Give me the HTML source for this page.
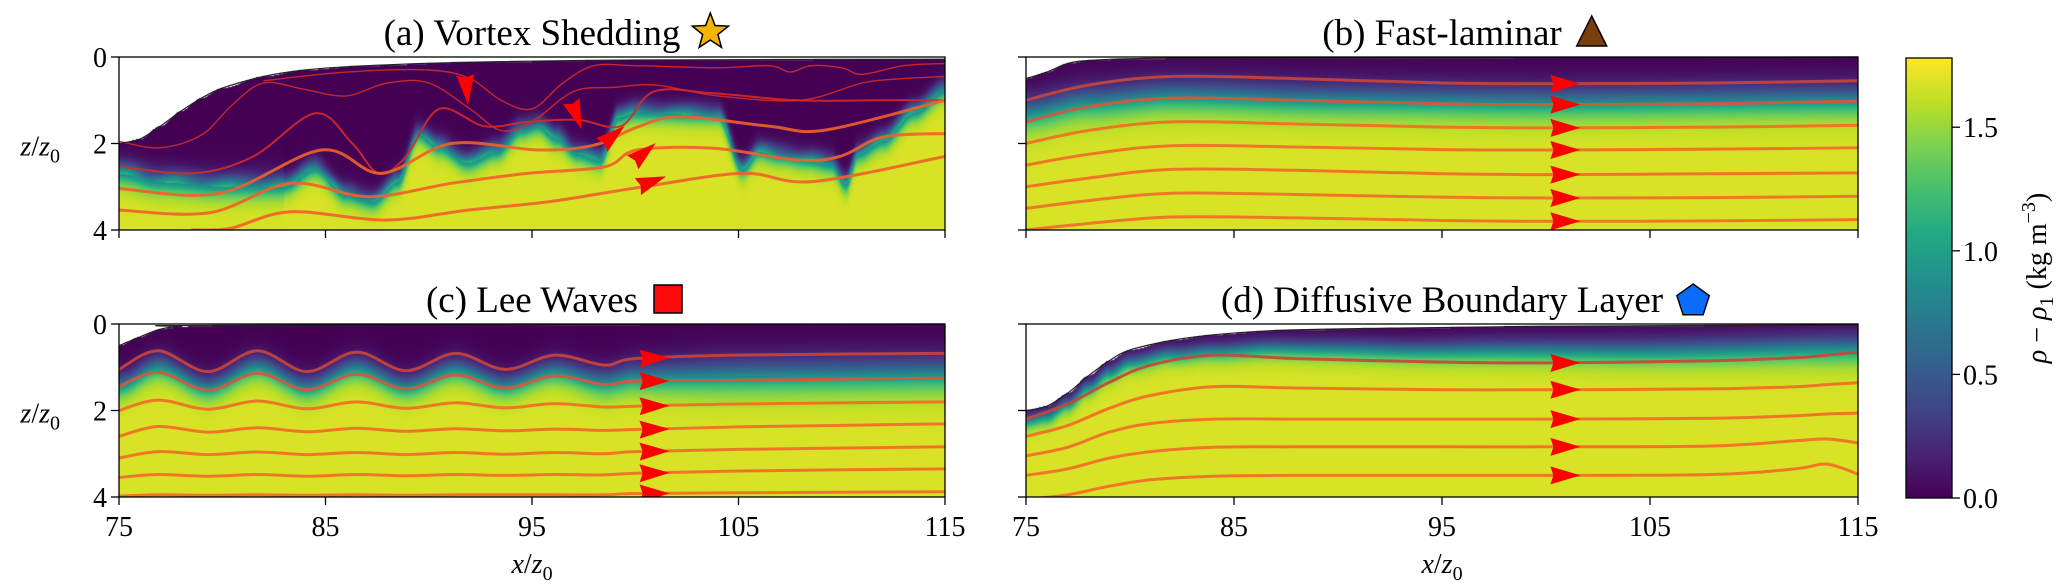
<!DOCTYPE html>
<html><head><meta charset="utf-8"><style>
html,body{margin:0;padding:0;background:#fff;width:2067px;height:588px;overflow:hidden}
#cv{position:absolute;left:0;top:0}
#sv{position:absolute;left:0;top:0}
text{font-family:"Liberation Serif",serif;fill:#000}
</style></head><body>
<canvas id="cv" width="2067" height="588"></canvas>
<svg id="sv" width="2067" height="588" xmlns="http://www.w3.org/2000/svg"></svg>
<script>
// ---------- data ----------
const xTicks=[75,85,95,105,115];
const zTicks=[0,2,4];
const cbTicks=[0.0,0.5,1.0,1.5];
const cbTickLabels=["0.0","0.5","1.0","1.5"];
const titles=["(a) Vortex Shedding","(b) Fast-laminar","(c) Lee Waves","(d) Diffusive Boundary Layer"];
const aTopoX=[75,76,77,78,79,80,82,84,87,92,100,115];
const aTopoZ=[2.0,1.9,1.6,1.25,0.95,0.72,0.45,0.3,0.2,0.12,0.07,0.05];
const bTopoX=[75,76,77,78,80,85,115];
const bTopoZ=[0.5,0.35,0.15,0.08,0.04,0.02,0.0];
const cTopoX=[75,76,77,78,80,115];
const cTopoZ=[0.5,0.3,0.12,0.06,0.03,0.0];
const dTopoX=[75,76,77,78,79,80,82,84,87,92,100,115];
const dTopoZ=[2.0,1.9,1.6,1.2,0.85,0.6,0.38,0.25,0.15,0.1,0.05,0.02];
const aIfX=[75,77,80,83,84.5,86,87.3,88.5,89.5,90.5,91.9,93.3,94.5,95.3,96.2,97.2,98.3,99.2,100,104,105.2,106,107,108.4,109.5,110.2,110.8,112,113.5,115];
const aIfZ=[2.7,2.9,3.0,3.0,2.6,3.2,3.35,2.9,1.8,2.1,2.45,2.2,1.7,1.6,1.9,2.25,2.4,1.4,1.3,1.35,2.6,2.2,2.3,2.4,2.5,2.95,2.25,1.95,1.3,0.8];
const bIfX=[75,78,82,90,100,115];
const bIfZ=[1.3,1.05,0.9,1.0,1.05,1.0];
const dThickX=[75,80,85,95,105,115];
const dThickZ=[0.25,0.3,0.4,0.55,0.6,0.55];
const aLines=[
 {x:[82,86,90,92,93.5,95,96.5,98,100,104,106.5,107.5,108.5,110,111,113,115],z:[0.55,0.35,0.3,0.5,1.0,1.2,0.6,0.2,0.2,0.25,0.2,0.35,0.2,0.25,0.4,0.2,0.15]},
 {x:[75,77,79,80.5,82,84,86,88,90,92,93.5,95,97,99,101,104,108,111,113,115],z:[1.95,2.1,1.8,1.1,0.6,0.75,0.9,0.6,0.6,1.2,1.7,1.5,0.8,0.7,0.65,0.9,1.0,0.6,0.5,0.45]},
 {x:[75,78.6,81.5,84.5,86.3,87.6,88.9,90.5,92.7,94.8,97.2,99.3,100.9,103.8,107.8,112,115],z:[2.53,2.69,2.3,1.3,2.0,2.7,2.3,1.2,1.6,1.5,1.45,1.6,0.8,0.84,1.0,1.0,1.0]},
 {x:[75,79.9,84.8,87.7,91.1,95.3,98,100.1,102.2,106.5,109.2,115],z:[3.04,3.15,2.15,2.69,2.0,2.15,2.04,1.62,1.38,1.6,1.69,1.0]},
 {x:[75,79.4,83.3,87.1,91.1,94.8,98.5,100.1,103.8,107.8,109.9,112,115],z:[3.54,3.6,2.92,3.23,2.92,2.69,2.54,2.15,2.11,2.38,2.3,1.85,1.77]},
 {x:[78.5,80.4,83.3,87.9,91.9,95.9,100.4,105.2,108.6,115],z:[4.0,3.96,3.58,3.77,3.54,3.34,3.0,2.69,2.88,2.3]}
];
const bX=[75,78,82,88,95,100,108,115];
const bLines=[
 [1.0,0.65,0.45,0.5,0.6,0.62,0.6,0.55],
 [1.5,1.15,0.95,1.0,1.08,1.1,1.08,1.02],
 [2.0,1.7,1.5,1.55,1.62,1.64,1.62,1.58],
 [2.5,2.25,2.05,2.08,2.14,2.15,2.13,2.1],
 [3.0,2.8,2.6,2.62,2.7,2.72,2.7,2.68],
 [3.5,3.32,3.15,3.18,3.24,3.26,3.25,3.22],
 [4.0,3.85,3.7,3.72,3.78,3.8,3.79,3.76]
];
const cX=[75,76.9,79.3,81.7,84.1,86.5,88.9,91.3,93.7,96.1,98.5,100,105,115];
const cLines=[
 [1.05,0.62,1.1,0.62,1.1,0.65,1.08,0.68,1.05,0.72,0.95,0.8,0.72,0.68],
 [1.45,1.12,1.53,1.14,1.52,1.16,1.5,1.18,1.48,1.2,1.4,1.32,1.3,1.25],
 [2.0,1.76,1.97,1.78,1.96,1.8,1.95,1.82,1.94,1.84,1.92,1.9,1.85,1.8],
 [2.6,2.37,2.5,2.4,2.49,2.41,2.48,2.42,2.47,2.43,2.46,2.44,2.38,2.31],
 [3.1,2.95,3.02,2.96,3.02,2.97,3.02,2.97,3.01,2.97,3.0,2.95,2.9,2.84],
 [3.55,3.48,3.52,3.48,3.52,3.48,3.51,3.48,3.5,3.48,3.49,3.45,3.4,3.35],
 [3.98,3.95,3.96,3.95,3.96,3.95,3.96,3.95,3.95,3.95,3.95,3.92,3.9,3.88]
];
const dX=[75,77,79,81,84,88,95,100,108,112,113.5,115];
const dLines=[
 [2.2,1.85,1.35,0.95,0.72,0.8,0.88,0.9,0.85,0.78,0.72,0.65],
 [2.6,2.35,1.95,1.65,1.45,1.48,1.52,1.52,1.5,1.45,1.4,1.36],
 [3.05,2.85,2.5,2.3,2.2,2.2,2.2,2.2,2.18,2.12,2.08,2.06],
 [3.5,3.35,3.1,2.95,2.85,2.84,2.84,2.84,2.82,2.7,2.66,2.75],
 [4.05,3.95,3.75,3.6,3.52,3.5,3.5,3.5,3.48,3.35,3.24,3.47]
];
const aArrowX=[91.8,97.0,98.6,100.1,100.4];
const aArrowZ=[0.55,1.15,1.95,2.35,2.95];
const aArrowDeg=[85,70,-40,-40,-20];
const arrowXbcd=100.5;
const cbMax=1.78, fieldMax=1.68;

// ---------- layout ----------
const P=[
 {x0:119,x1:945,y0:57,y1:230},
 {x0:1026,x1:1858,y0:57,y1:230},
 {x0:119,x1:945,y0:324,y1:497},
 {x0:1026,x1:1858,y0:324,y1:497}
];
const CB={x0:1906,x1:1952,y0:58,y1:498};
function sx(p,x){return p.x0+(x-75)/40*(p.x1-p.x0);}
function sz(p,z){return p.y0+z/4*(p.y1-p.y0);}
function interp(xs,ys,x){
 if(x<=xs[0])return ys[0]; const n=xs.length;
 if(x>=xs[n-1])return ys[n-1];
 for(let i=1;i<n;i++){if(x<=xs[i]){const t=(x-xs[i-1])/(xs[i]-xs[i-1]);const s=t*t*(3-2*t);return ys[i-1]+(ys[i]-ys[i-1])*s;}}
}
const VIR=[[68,1,84],[72,36,117],[65,68,135],[53,95,141],[42,120,142],[33,145,140],[34,168,132],[68,191,112],[122,209,81],[189,223,38],[253,231,37]];
function vir(t){t=Math.max(0,Math.min(1,t));const f=t*10,i=Math.min(9,Math.floor(f)),r=f-i;const a=VIR[i],b=VIR[i+1];return[a[0]+(b[0]-a[0])*r,a[1]+(b[1]-a[1])*r,a[2]+(b[2]-a[2])*r];}

// ---------- heatmaps ----------
const cv=document.getElementById('cv'),ctx=cv.getContext('2d');
const img=ctx.createImageData(2067,588),D=img.data;
for(let i=0;i<D.length;i+=4){D[i]=D[i+1]=D[i+2]=255;D[i+3]=255;}
function col(k,x){
 if(k===0)return{t:interp(aTopoX,aTopoZ,x),h:interp(aIfX,aIfZ,x),w:x<83?0.16:0.12};
 if(k===1)return{t:interp(bTopoX,bTopoZ,x),h:interp(bIfX,bIfZ,x),w:0.22};
 if(k===2){const f=Math.max(0,Math.min(1,(x-96)/8));return{t:interp(cTopoX,cTopoZ,x),h:interp(cX,cLines[0],x)+0.38+0.1*f,w:0.16+0.08*f};}
 const t=interp(dTopoX,dTopoZ,x);return{t:t,h:t+interp(dThickX,dThickZ,x),w:0.1+0.1*(x-75)/40};
}
P.forEach((p,k)=>{
 for(let px=p.x0;px<p.x1;px++){
  const x=75+(px+0.5-p.x0)/(p.x1-p.x0)*40; const c=col(k,x);
  for(let py=p.y0;py<p.y1;py++){
   const z=(py+0.5-p.y0)/(p.y1-p.y0)*4; const o=(py*2067+px)*4;
   if(z<c.t)continue;
   let s=1/(1+Math.exp(-(z-c.h)/c.w));
   if(k===0&&z<c.h){const dd=c.h-z; s+=0.2*Math.exp(-dd*dd/0.06)*(0.5+0.5*Math.sin(x*2.3+z*4));}
   const rgb=vir(s*fieldMax/cbMax);
   D[o]=rgb[0];D[o+1]=rgb[1];D[o+2]=rgb[2];
  }
 }
});
for(let py=CB.y0;py<CB.y1;py++){const rgb=vir(1-(py-CB.y0)/(CB.y1-CB.y0));for(let px=CB.x0;px<CB.x1;px++){const o=(py*2067+px)*4;D[o]=rgb[0];D[o+1]=rgb[1];D[o+2]=rgb[2];}}
ctx.putImageData(img,0,0);

// ---------- svg ----------
const NS='http://www.w3.org/2000/svg',svg=document.getElementById('sv');
function mk(tag,attrs,parent){const e=document.createElementNS(NS,tag);for(const k in attrs)e.setAttribute(k,attrs[k]);(parent||svg).appendChild(e);return e;}
const defs=mk('defs',{});
P.forEach((p,k)=>{const cp=mk('clipPath',{id:'clip'+k},defs);mk('rect',{x:p.x0,y:p.y0,width:p.x1-p.x0,height:p.y1-p.y0},cp);});
function pathFrom(p,xs,zs){
 const pts=xs.map((x,i)=>[sx(p,x),sz(p,zs[i])]);
 let d='M'+pts[0][0].toFixed(1)+','+pts[0][1].toFixed(1);
 for(let i=0;i<pts.length-1;i++){
  const p0=pts[Math.max(0,i-1)],p1=pts[i],p2=pts[i+1],p3=pts[Math.min(pts.length-1,i+2)];
  const c1=[p1[0]+(p2[0]-p0[0])/6,p1[1]+(p2[1]-p0[1])/6],c2=[p2[0]-(p3[0]-p1[0])/6,p2[1]-(p3[1]-p1[1])/6];
  d+='C'+c1[0].toFixed(1)+','+c1[1].toFixed(1)+' '+c2[0].toFixed(1)+','+c2[1].toFixed(1)+' '+p2[0].toFixed(1)+','+p2[1].toFixed(1);
 }
 return d;
}
function arrow(g,cx,cy,deg){
 const a=mk('polygon',{points:'-6,-9 24,0 -6,9 -3,0',fill:'#ff0000',transform:'translate('+cx.toFixed(1)+','+cy.toFixed(1)+') rotate('+deg+')'},g);
 
 
}
function lineCol(k,i){ if(k===0)return i<3?'#d42a2a':'#f0602a'; return i===0?'#c9453a':(i===1&&k!==3?'#d8573a':'#f26a28');}
function drawLines(k,lines){
 const p=P[k];const g=mk('g',{'clip-path':'url(#clip'+k+')'});
 
 
 lines.forEach((L,i)=>{
  const e=mk('path',{d:pathFrom(p,L.x,L.z),fill:'none',stroke:lineCol(k,i),'stroke-width':(k===0&&i<2)?1.4:(k===0&&i===2?2:3),'stroke-opacity':0.9},g);
  
  
  if(k>0){
   const z1=interp(L.x,L.z,arrowXbcd),z2=interp(L.x,L.z,arrowXbcd+0.5);
   const ang=Math.atan2(sz(p,z2)-sz(p,z1),sx(p,arrowXbcd+0.5)-sx(p,arrowXbcd))*180/Math.PI;
   arrow(g,sx(p,arrowXbcd),sz(p,z1),ang);
  }
 });
 if(k===0)aArrowX.forEach((x,i)=>arrow(g,sx(p,x),sz(p,aArrowZ[i]),aArrowDeg[i]));
}
drawLines(0,aLines);
drawLines(1,bLines.map(z=>({x:bX,z:z})));
drawLines(2,cLines.map(z=>({x:cX,z:z})));
drawLines(3,dLines.map(z=>({x:dX,z:z})));

const topoSets=[[aTopoX,aTopoZ],[bTopoX,bTopoZ],[cTopoX,cTopoZ],[dTopoX,dTopoZ]];
P.forEach((p,k)=>{
 const g=mk('g',{});
 
 
 const tp=mk('path',{d:pathFrom(p,topoSets[k][0],topoSets[k][1]),fill:'none',stroke:'#222','stroke-width':1.2},g);
 
 
 mk('rect',{x:p.x0,y:p.y0,width:p.x1-p.x0,height:p.y1-p.y0,fill:'none',stroke:'#000','stroke-width':1.3},g);
 xTicks.forEach(t=>{const x=sx(p,t);mk('line',{x1:x,x2:x,y1:p.y1,y2:p.y1+8,stroke:'#000','stroke-width':1.3},g);
  if(k>=2){const tl=mk('text',{x:x,y:p.y1+39,'font-size':28,'text-anchor':'middle'},g);tl.textContent=t;
   
   }});
 zTicks.forEach(t=>{const y=sz(p,t);mk('line',{x1:p.x0-8,x2:p.x0,y1:y,y2:y,stroke:'#000','stroke-width':1.3},g);
  if(k%2===0){const tl=mk('text',{x:p.x0-12,y:y+10,'font-size':28,'text-anchor':'end'},g);tl.textContent=t;
   
   }});
 if(k%2===0){const yl=mk('text',{x:60,y:(p.y0+p.y1)/2+12,'font-size':28,'text-anchor':'end'},g);
  yl.innerHTML='<tspan font-style="italic">z</tspan>/<tspan font-style="italic">z</tspan><tspan font-size="20" dy="7">0</tspan>';
  
  }
 if(k>=2){const xl=mk('text',{x:(p.x0+p.x1)/2,y:p.y1+76,'font-size':28,'text-anchor':'middle'},g);
  xl.innerHTML='<tspan font-style="italic">x</tspan>/<tspan font-style="italic">z</tspan><tspan font-size="20" dy="7">0</tspan>';
  
  }
 const cx=(p.x0+p.x1)/2, ty=p.y0-12;
 const tt=mk('text',{x:cx,y:ty,'font-size':37,'text-anchor':'middle'},g);tt.textContent=titles[k];
 
 
 const ix=cx+tt.getComputedTextLength()/2+30, iy=ty-13;
 let ic;
 if(k===0){let pts=[];for(let i=0;i<10;i++){const r=i%2?8:19,a=-Math.PI/2+i*Math.PI/5;pts.push((ix+r*Math.cos(a)).toFixed(1)+','+(iy+r*Math.sin(a)).toFixed(1));}
  ic=mk('polygon',{points:pts.join(' '),fill:'#f5b400',stroke:'#000','stroke-width':1.5},g);}
 else if(k===1)ic=mk('polygon',{points:(ix-15)+','+(iy+14)+' '+(ix+15)+','+(iy+14)+' '+ix+','+(iy-16),fill:'#7a3d0c',stroke:'#000','stroke-width':1.5},g);
 else if(k===2)ic=mk('rect',{x:ix-14,y:iy-14,width:28,height:28,fill:'#ff0a0a',stroke:'#000','stroke-width':1.5},g);
 else {let pts=[];for(let i=0;i<5;i++){const a=-Math.PI/2+i*2*Math.PI/5;pts.push((ix+17*Math.cos(a)).toFixed(1)+','+(iy+2+17*Math.sin(a)).toFixed(1));}
  ic=mk('polygon',{points:pts.join(' '),fill:'#0a6cff',stroke:'#000','stroke-width':1.5},g);}
 
 
});

const cg=mk('g',{});


mk('rect',{x:CB.x0,y:CB.y0,width:CB.x1-CB.x0,height:CB.y1-CB.y0,fill:'none',stroke:'#000','stroke-width':1.3},cg);
cbTicks.forEach((t,i)=>{const y=CB.y1-t/cbMax*(CB.y1-CB.y0);
 mk('line',{x1:CB.x1,x2:CB.x1+8,y1:y,y2:y,stroke:'#000','stroke-width':1.3},cg);
 const tl=mk('text',{x:CB.x1+11,y:y+10,'font-size':28},cg);tl.textContent=cbTickLabels[i];
 
 });
const cl=mk('text',{x:0,y:0,'font-size':28,'text-anchor':'middle',transform:'translate(2046,278) rotate(-90)'},cg);
cl.innerHTML='<tspan font-style="italic">ρ</tspan> − <tspan font-style="italic">ρ</tspan><tspan font-size="20" dy="7">1</tspan><tspan dy="-7"> (kg m</tspan><tspan font-size="20" dy="-11">−3</tspan><tspan dy="11">)</tspan>';


</script>
</body></html>
